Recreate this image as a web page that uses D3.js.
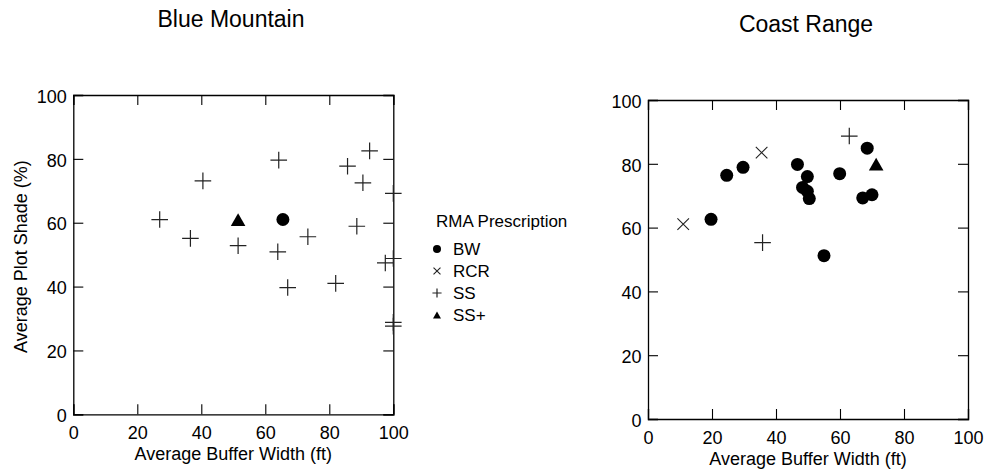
<!DOCTYPE html>
<html><head><meta charset="utf-8">
<script src="https://cdn.jsdelivr.net/npm/d3@7"></script>
<style>body{margin:0;background:#fff}svg{display:block;font-family:"Liberation Sans",Arial,sans-serif}</style>
</head><body>
<script>
// ---- data ----
const xTicks = [0,20,40,60,80,100];
const yTicks = [0,20,40,60,80,100];
const legendCats = ["BW","RCR","SS","SS+"];
// Blue Mountain
const bmBW = [[65.5,61]];
const bmRCR = [];
const bmSS = [[27,61],[36.6,55.1],[40.5,73.1],[51.5,52.8],[64.2,79.6],[63.9,50.9],[67,39.7],[73.3,55.6],[82,41],[85.7,77.7],[92.6,82.5],[90.5,72.5],[88.6,58.9],[100,69.2],[97.5,47.4],[100,48.8],[100,28.8],[100,27.6]];
const bmSSp = [[51.5,61]];
// Coast Range
const crBW = [[19.7,62.6],[24.6,76.4],[29.7,78.9],[46.7,79.8],[49.8,76],[48.3,72.6],[49.8,71.4],[50.4,69.1],[55,51.2],[59.9,76.9],[68.5,84.9],[67.1,69.3],[70,70.3]];
const crRCR = [[11,61.1],[35.5,83.5]];
const crSS = [[35.8,55.3],[62.9,88.7]];
const crSSp = [[71.3,79.9]];

const W=984,H=470;
const svg=d3.select("body").append("svg").attr("width",W).attr("height",H);

function marker(g,type,x,y,s){
  if(type==="BW"){
    g.append("circle").attr("cx",x).attr("cy",y).attr("r",6.5*s).attr("fill","#000");
  } else if(type==="RCR"){
    const h=5.8*s;
    g.append("path").attr("d",`M${x-h},${y-h}L${x+h},${y+h}M${x-h},${y+h}L${x+h},${y-h}`)
      .attr("stroke","#222").attr("stroke-width",1.1).attr("fill","none");
  } else if(type==="SS"){
    const h=8.3*s;
    g.append("path").attr("d",`M${x-h},${y}L${x+h},${y}M${x},${y-h}L${x},${y+h}`)
      .attr("stroke","#222").attr("stroke-width",1.2).attr("fill","none");
  } else {
    const w=7.3*s, hh=6.4*s;
    g.append("path").attr("d",`M${x},${y-hh}L${x+w},${y+hh}L${x-w},${y+hh}Z`).attr("fill","#000");
  }
}

function panel(x0,x1,y0,y1,title,tx,ty,series,showY){
  const g=svg.append("g");
  const x=d3.scaleLinear().domain([0,100]).range([x0,x1]);
  const y=d3.scaleLinear().domain([0,100]).range([y0,y1]);
  const fs=18;
  const ax=[
    [d3.axisBottom(x).tickValues(xTicks).tickSize(-10).tickPadding(12),`translate(0,${y0})`,"b"],
    [d3.axisTop(x).tickValues(xTicks).tickSize(-10).tickFormat(""),`translate(0,${y1})`,"t"],
    [d3.axisLeft(y).tickValues(yTicks).tickSize(-10).tickPadding(6.5),`translate(${x0},0)`,"l"],
    [d3.axisRight(y).tickValues(yTicks).tickSize(-10).tickFormat(""),`translate(${x1},0)`,"r"]
  ];
  ax.forEach(([a,t,k])=>{
    const s=g.append("g").attr("transform",t).call(a);
    s.select(".domain").attr("stroke","#000").attr("stroke-width",1.3);
    s.selectAll(".tick line").attr("stroke","#000").attr("stroke-width",1.1);
    s.selectAll(".tick text").attr("font-size",fs).attr("fill","#000").attr("font-family","Liberation Sans, Arial, sans-serif");
    if(k==="l") s.selectAll(".tick text").attr("dy","0.4em");
  });
  g.append("text").attr("x",tx).attr("y",ty).attr("text-anchor","middle").attr("font-size",23).text(title);
  g.append("text").attr("x",(x0+x1)/2).attr("y",y0+46).attr("text-anchor","middle").attr("font-size",fs).text("Average Buffer Width (ft)");
  if(showY){
    g.append("text").attr("transform",`translate(${x0-46.5},${(y0+y1)/2+2}) rotate(-90)`).attr("text-anchor","middle").attr("font-size",fs).text("Average Plot Shade (%)");
  }
  const mg=g.append("g");
  series.forEach(([type,data])=>data.forEach(d=>marker(mg,type,x(d[0]),y(d[1]),1)));
}

panel(73.3,393.3,414.3,95,"Blue Mountain",231,27,[["SS",bmSS],["RCR",bmRCR],["BW",bmBW],["SS+",bmSSp]],true);
panel(648,968,419,100,"Coast Range",806,32,[["SS",crSS],["RCR",crRCR],["BW",crBW],["SS+",crSSp]],false);

// legend
const lg=svg.append("g");
lg.append("text").attr("x",436).attr("y",227).attr("font-size",17).text("RMA Prescription");
legendCats.forEach((c,i)=>{
  const by=255+i*22;
  marker(lg,c,437,by-6,c==="BW"?0.62:(c==="RCR"?0.6:0.55));
  lg.append("text").attr("x",453).attr("y",by).attr("font-size",17).text(c);
});
</script>
</body></html>
